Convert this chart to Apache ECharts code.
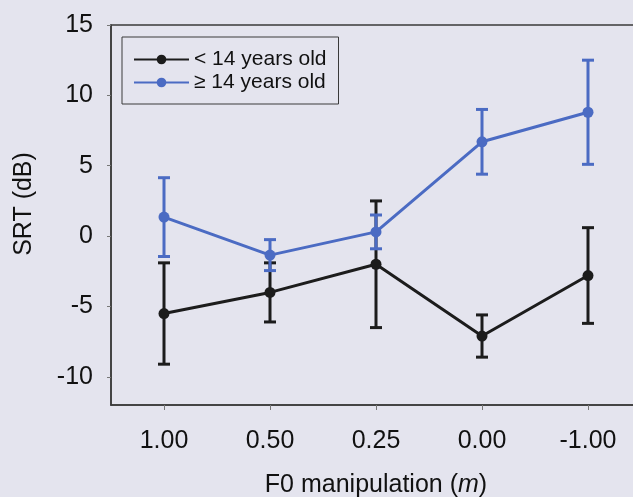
<!DOCTYPE html>
<html>
<head>
<meta charset="utf-8">
<script src="https://cdn.jsdelivr.net/npm/echarts@6/dist/echarts.min.js"></script>
<style>
  html, body { margin: 0; padding: 0; background: #e4e4ee; }
  #chart { width: 633px; height: 497px; }
</style>
</head>
<body>
<div id="chart"></div>
<script>
// values
var categories = ['1.00', '0.50', '0.25', '0.00', '-1.00']
var youngMean = [-5.5, -4.0, -2.0, -7.1, -2.8]
var youngErr = [3.6, 2.1, 4.5, 1.5, 3.4]
var oldMean = [1.35, -1.35, 0.3, 6.7, 8.8]
var oldErr = [2.8, 1.1, 1.2, 2.3, 3.7]
var yTicks = [-10, -5, 0, 5, 10, 15]

var black = '#1c1c1c'
var blue = '#4b6bc3'
var font = 'Liberation Sans, Arial, sans-serif'

function errorSeries (mean, err, color) {
  return {
    type: 'custom',
    silent: true,
    data: mean.map(function (m, i) { return [i, m - err[i], m + err[i]] }),
    encode: { x: 0, y: [1, 2] },
    renderItem: function (params, api) {
      var lo = api.coord([api.value(0), api.value(1)])
      var hi = api.coord([api.value(0), api.value(2)])
      var w = 6
      var style = { stroke: color, lineWidth: 3 }
      return {
        type: 'group',
        children: [
          { type: 'line', shape: { x1: lo[0], y1: lo[1], x2: hi[0], y2: hi[1] }, style: style },
          { type: 'line', shape: { x1: lo[0] - w, y1: lo[1], x2: lo[0] + w, y2: lo[1] }, style: style },
          { type: 'line', shape: { x1: hi[0] - w, y1: hi[1], x2: hi[0] + w, y2: hi[1] }, style: style }
        ]
      }
    }
  }
}

var chart = echarts.init(document.getElementById('chart'))
chart.setOption({
  backgroundColor: '#e4e4ee',
  animation: false,
  grid: {
    left: 111, top: 25, width: 530, height: 380,
    outerBoundsMode: 'none',
    containLabel: false,
    show: true, borderColor: '#3a3a3a', borderWidth: 1.5
  },
  legend: {
    orient: 'vertical',
    left: 122, top: 37,
    padding: [12, 12, 11, 11],
    itemGap: 2,
    itemWidth: 55,
    itemHeight: 12,
    borderColor: '#3a3a3a',
    borderWidth: 1,
    textStyle: { fontSize: 21, color: '#111', fontFamily: font },
    data: ['< 14 years old', '≥ 14 years old']
  },
  xAxis: {
    type: 'category',
    data: categories,
    boundaryGap: true,
    name: 'F0 manipulation ({i|m})',
    nameLocation: 'middle',
    nameGap: 68,
    nameTextStyle: {
      fontSize: 25, color: '#111', fontFamily: font,
      rich: { i: { fontSize: 25, fontStyle: 'italic', color: '#111', fontFamily: font } }
    },
    axisLine: { show: true, onZero: false, lineStyle: { color: '#3a3a3a', width: 1.5 } },
    axisTick: { show: true, alignWithLabel: true, length: 5, lineStyle: { color: '#777' } },
    axisLabel: { fontSize: 25, color: '#111', fontFamily: font, margin: 24 },
    splitLine: { show: false }
  },
  yAxis: {
    type: 'value',
    min: -12,
    max: 15,
    name: 'SRT (dB)',
    nameLocation: 'middle',
    nameGap: 74,
    nameTextStyle: { fontSize: 25, color: '#111', fontFamily: font, padding: [0, 0, 0, 22] },
    axisLine: { show: true, lineStyle: { color: '#3a3a3a', width: 1.5 } },
    axisTick: { show: true, length: 4, customValues: yTicks, lineStyle: { color: '#777' } },
    axisLabel: { fontSize: 25, color: '#111', fontFamily: font, margin: 18, customValues: yTicks },
    splitLine: { show: false }
  },
  series: [
    errorSeries(youngMean, youngErr, black),
    {
      name: '< 14 years old',
      type: 'line',
      data: youngMean,
      symbol: 'circle',
      symbolSize: 11,
      color: black,
      lineStyle: { color: black, width: 3 },
      itemStyle: { color: black }
    },
    errorSeries(oldMean, oldErr, blue),
    {
      name: '≥ 14 years old',
      type: 'line',
      data: oldMean,
      symbol: 'circle',
      symbolSize: 11,
      color: blue,
      lineStyle: { color: blue, width: 3 },
      itemStyle: { color: blue }
    }
  ]
})
</script>
</body>
</html>
